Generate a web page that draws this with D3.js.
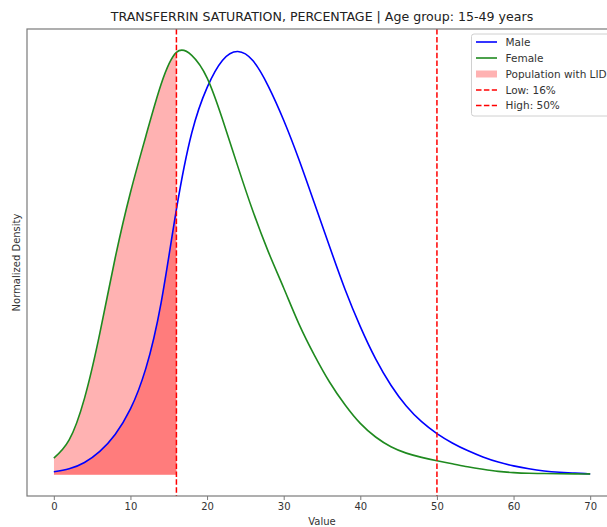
<!DOCTYPE html>
<html>
<head>
<meta charset="utf-8">
<script src="https://cdn.jsdelivr.net/npm/d3@7"></script>
<style>
  html, body { margin: 0; padding: 0; background: #fff; }
  svg { display: block; font-family: "DejaVu Sans", sans-serif; }
</style>
</head>
<body>
<svg id="chart" width="607" height="527"></svg>
<script>
// ---- data ----
const xValues = [0,2,4,6,8,10,12,14,16,18,20,22,24,26,28,30,32,34,36,38,40,42,44,46,48,50,52,54,56,58,60,62,64,66,68,70];
const maleValues = [0.007,0.014,0.029,0.055,0.095,0.155,0.250,0.405,0.625,0.805,0.912,0.976,0.997,0.975,0.915,0.835,0.742,0.640,0.537,0.437,0.349,0.273,0.211,0.162,0.125,0.097,0.075,0.057,0.042,0.030,0.021,0.014,0.009,0.006,0.004,0.002];
const femaleValues = [0.039,0.082,0.180,0.333,0.510,0.665,0.797,0.920,0.995,0.988,0.935,0.838,0.727,0.620,0.525,0.440,0.355,0.282,0.218,0.165,0.121,0.089,0.066,0.051,0.041,0.033,0.026,0.019,0.013,0.008,0.005,0.0035,0.003,0.0025,0.002,0.002];
const xTicks = [0,10,20,30,40,50,60,70];
const lowThreshold = 16;
const highThreshold = 50;
const titleText = "TRANSFERRIN SATURATION, PERCENTAGE | Age group: 15-49 years";
const xLabel = "Value";
const yLabel = "Normalized Density";
const legendLabels = ["Male", "Female", "Population with LID", "Low: 16%", "High: 50%"];

// ---- layout ----
const svg = d3.select("#chart");
const pLeft = 27, pRight = 617, pTop = 29, pBottom = 496;

const x = d3.scaleLinear().domain([-3.5, 73.5]).range([pLeft, pRight]);
const y = d3.scaleLinear().domain([-0.05, 1.05]).range([pBottom, pTop]);

const male = xValues.map((v, i) => ({x: v, y: maleValues[i]}));
const female = xValues.map((v, i) => ({x: v, y: femaleValues[i]}));

const curve = d3.curveNatural;
const line = d3.line().x(d => x(d.x)).y(d => y(d.y)).curve(curve);
const area = d3.area().x(d => x(d.x)).y0(y(0)).y1(d => y(d.y)).curve(curve);

const defs = svg.append("defs");
defs.append("clipPath").attr("id", "lidClip")
  .append("rect")
  .attr("x", x(0)).attr("y", pTop)
  .attr("width", x(lowThreshold) - x(0)).attr("height", pBottom - pTop);
defs.append("clipPath").attr("id", "plotClip")
  .append("rect")
  .attr("x", pLeft).attr("y", pTop)
  .attr("width", pRight - pLeft).attr("height", pBottom - pTop);

const plot = svg.append("g").attr("clip-path", "url(#plotClip)");

// fills (population with LID)
const fills = plot.append("g").attr("clip-path", "url(#lidClip)");
fills.append("path").datum(male).attr("d", area)
  .attr("fill", "red").attr("fill-opacity", 0.3);
fills.append("path").datum(female).attr("d", area)
  .attr("fill", "red").attr("fill-opacity", 0.3);

// lines
plot.append("path").datum(male).attr("d", line)
  .attr("fill", "none").attr("stroke", "#0000ff").attr("stroke-width", 1.6);
plot.append("path").datum(female).attr("d", line)
  .attr("fill", "none").attr("stroke", "#1f8a1f").attr("stroke-width", 1.6);

// threshold lines
[lowThreshold, highThreshold].forEach(t => {
  plot.append("line")
    .attr("x1", x(t)).attr("x2", x(t))
    .attr("y1", pTop).attr("y2", pBottom)
    .attr("stroke", "red").attr("stroke-width", 1.5)
    .attr("stroke-dasharray", "5.5,2.4");
});

// spines
svg.append("rect")
  .attr("x", pLeft).attr("y", pTop)
  .attr("width", pRight - pLeft).attr("height", pBottom - pTop)
  .attr("fill", "none").attr("stroke", "#7a7a7a").attr("stroke-width", 1.2);

// x axis
const xAxis = d3.axisBottom(x).tickValues(xTicks).tickSize(4).tickPadding(3).tickFormat(d3.format("d"));
const gx = svg.append("g").attr("transform", `translate(0,${pBottom})`).call(xAxis);
gx.select(".domain").remove();
gx.selectAll(".tick line").attr("stroke", "#7a7a7a").attr("stroke-width", 1);
gx.selectAll(".tick text").attr("fill", "#333").attr("font-size", 10)
  .attr("font-family", "DejaVu Sans, sans-serif");

// labels
svg.append("text").attr("x", (pLeft + pRight) / 2).attr("y", 21)
  .attr("text-anchor", "middle").attr("font-size", 12.6).attr("fill", "#222")
  .text(titleText);
svg.append("text").attr("x", (pLeft + pRight) / 2).attr("y", 525)
  .attr("text-anchor", "middle").attr("font-size", 10).attr("fill", "#333")
  .text(xLabel);
svg.append("text")
  .attr("transform", `translate(20,${(pTop + pBottom) / 2}) rotate(-90)`)
  .attr("text-anchor", "middle").attr("font-size", 10).attr("fill", "#333")
  .text(yLabel);

// legend
const lg = svg.append("g");
lg.append("rect").attr("x", 471.5).attr("y", 34).attr("width", 150).attr("height", 82)
  .attr("rx", 2.5).attr("fill", "#fff").attr("fill-opacity", 0.85)
  .attr("stroke", "#d0d0d0").attr("stroke-width", 1);
const rowY = [42, 58, 74, 90, 105.5];
const hx0 = 476, hx1 = 497, tx = 505.5;
lg.append("line").attr("x1", hx0).attr("x2", hx1).attr("y1", rowY[0]).attr("y2", rowY[0])
  .attr("stroke", "#0000ff").attr("stroke-width", 1.6);
lg.append("line").attr("x1", hx0).attr("x2", hx1).attr("y1", rowY[1]).attr("y2", rowY[1])
  .attr("stroke", "#1f8a1f").attr("stroke-width", 1.6);
lg.append("rect").attr("x", hx0).attr("y", rowY[2] - 3.5).attr("width", hx1 - hx0).attr("height", 7)
  .attr("fill", "red").attr("fill-opacity", 0.3);
[3, 4].forEach(i => {
  lg.append("line").attr("x1", hx0).attr("x2", hx1).attr("y1", rowY[i]).attr("y2", rowY[i])
    .attr("stroke", "red").attr("stroke-width", 1.5).attr("stroke-dasharray", "5.5,2.4");
});
legendLabels.forEach((t, i) => {
  lg.append("text").attr("x", tx).attr("y", rowY[i]).attr("dy", "0.35em")
    .attr("font-size", 10.5).attr("fill", "#333").text(t);
});
</script>
</body>
</html>
